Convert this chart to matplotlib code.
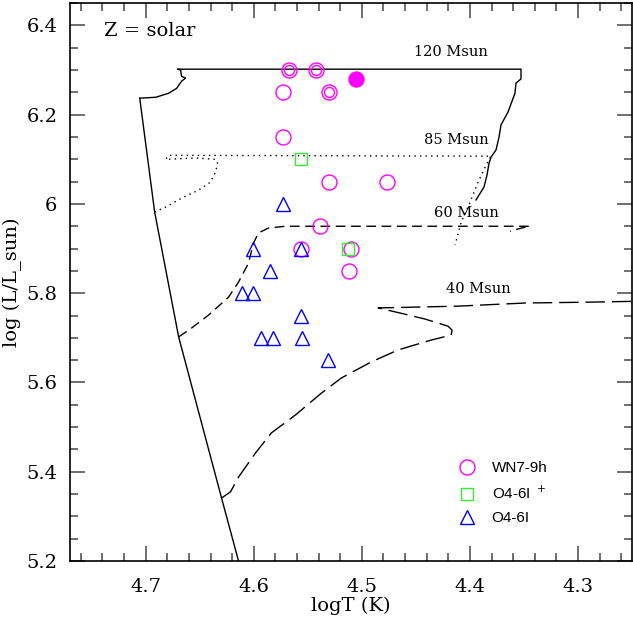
import matplotlib
matplotlib.use("Agg")
import matplotlib.pyplot as plt
from matplotlib.ticker import MultipleLocator

# --- observed stars (logT, logL) ---
wn_T = [4.573, 4.573, 4.530, 4.477, 4.539, 4.556, 4.510, 4.512]
wn_L = [6.250, 6.150, 6.050, 6.050, 5.950, 5.900, 5.900, 5.850]
wn_double_T = [4.567, 4.542, 4.530]
wn_double_L = [6.300, 6.300, 6.250]
wn_filled_T = [4.505]
wn_filled_L = [6.280]

o_plus_T = [4.556, 4.513]
o_plus_L = [6.100, 5.900]

o_T = [4.573, 4.601, 4.556, 4.585, 4.611, 4.601, 4.556, 4.593, 4.582, 4.555, 4.531]
o_L = [6.000, 5.900, 5.900, 5.850, 5.800, 5.800, 5.750, 5.700, 5.700, 5.700, 5.650]

# --- tracks ---
zams_T = [4.7055, 4.6917, 4.6695, 4.6298, 4.6141, 4.6085]
zams_L = [6.237, 5.982, 5.702, 5.341, 5.200, 5.150]

m120_T = [4.7055, 4.6908, 4.6788, 4.6714, 4.6668, 4.6631, 4.6668, 4.6677, 4.6705,
          4.3528, 4.3528, 4.3574, 4.3584, 4.3648, 4.3713, 4.3731, 4.3759, 4.3805,
          4.3824, 4.3842, 4.3870, 4.3944]
m120_L = [6.237, 6.239, 6.248, 6.259, 6.275, 6.282, 6.286, 6.300, 6.302,
          6.302, 6.280, 6.271, 6.248, 6.206, 6.177, 6.150, 6.121, 6.105,
          6.091, 6.065, 6.038, 6.009]

m85_T = [4.6917, 4.6815, 4.6668, 4.6511, 4.6400, 4.6354, 4.6335, 4.6354, 4.6538,
         4.6815, 4.6788, 4.3805, 4.3851, 4.3925, 4.3999, 4.4082, 4.4138]
m85_L = [5.982, 5.993, 6.013, 6.031, 6.049, 6.071, 6.091, 6.100, 6.103,
         6.100, 6.109, 6.107, 6.087, 6.049, 6.004, 5.959, 5.908]

m60_T = [4.6695, 4.6575, 4.6418, 4.6234, 4.6141, 4.6049, 4.6003, 4.5957, 4.5864,
         4.5707, 4.3445, 4.3491, 4.3630]
m60_L = [5.702, 5.722, 5.751, 5.791, 5.825, 5.867, 5.912, 5.935, 5.946,
         5.950, 5.950, 5.948, 5.939]

m40_T = [4.6298, 4.6215, 4.6141, 4.5984, 4.5837, 4.5615, 4.5375, 4.5190, 4.4913,
         4.4664, 4.4359, 4.4175, 4.4165, 4.4202, 4.4415, 4.4636, 4.4849, 4.4110,
         4.3491, 4.2882, 4.2448]
m40_L = [5.341, 5.355, 5.388, 5.442, 5.487, 5.527, 5.576, 5.610, 5.646,
         5.673, 5.695, 5.706, 5.717, 5.726, 5.742, 5.755, 5.767, 5.771,
         5.778, 5.780, 5.782]

track_labels = ["120 Msun", "85 Msun", "60 Msun", "40 Msun"]
label_T = [4.418, 4.413, 4.4036, 4.3925]
label_L = [6.340, 6.143, 5.979, 5.809]

serif = "DejaVu Serif"
magenta = "#ff00ff"
green = "#33ee33"
blue = "#0000ff"

fig = plt.figure(figsize=(6.33, 6.24), dpi=100)
ax = fig.add_axes([0.1106, 0.101, 0.888, 0.894])

ax.plot(zams_T, zams_L, color="black", lw=1.0)
ax.plot(m120_T, m120_L, color="black", lw=1.0)
ax.plot(m85_T, m85_L, color="black", lw=1.0, linestyle=(0, (1, 3)))
ax.plot(m60_T, m60_L, color="black", lw=1.0, linestyle=(0, (7, 4)))
ax.plot(m40_T, m40_L, color="black", lw=1.0, linestyle=(0, (14, 5)))

for lab, t, l in zip(track_labels, label_T, label_L):
    ax.text(t, l, lab, fontsize=10.5, family=serif, ha="center", va="center")

ax.text(0.06, 0.95, "Z = solar", transform=ax.transAxes, fontsize=14,
        family=serif, ha="left", va="center")

# stars
ax.plot(wn_T, wn_L, "o", ms=10.8, mfc="none", mec=magenta, mew=1.0,
        ls="none", label="WN7-9h")
ax.plot(wn_double_T, wn_double_L, "o", ms=10.8, mfc="none", mec=magenta,
        mew=1.0, ls="none")
ax.plot(wn_double_T, wn_double_L, "o", ms=7.2, mfc="none", mec=magenta,
        mew=1.0, ls="none")
ax.plot(wn_filled_T, wn_filled_L, "o", ms=10.8, mfc=magenta, mec=magenta,
        ls="none")
ax.plot(o_plus_T, o_plus_L, "s", ms=8.0, mfc="none", mec=green, mew=1.0,
        ls="none", label="O4-6I $^+$")
ax.plot(o_T, o_L, "^", ms=9.5, mfc="none", mec=blue, mew=1.0,
        ls="none", label="O4-6I")

ax.set_xlim(4.77, 4.25)
ax.set_ylim(5.2, 6.45)
ax.xaxis.set_major_locator(MultipleLocator(0.1))
ax.xaxis.set_minor_locator(MultipleLocator(0.02))
ax.yaxis.set_minor_locator(MultipleLocator(0.05))
ax.set_yticks([5.2, 5.4, 5.6, 5.8, 6.0, 6.2, 6.4])
ax.set_yticklabels(["5.2", "5.4", "5.6", "5.8", "6", "6.2", "6.4"])

ax.tick_params(which="both", direction="in", top=True, right=True,
               color="#555555", width=1.2)
ax.tick_params(which="major", length=11, labelsize=14, pad=9)
ax.tick_params(which="minor", length=5.5)
ax.tick_params(axis="x", which="major", pad=12)
for lbl in ax.get_xticklabels() + ax.get_yticklabels():
    lbl.set_family(serif)
for sp in ax.spines.values():
    sp.set_linewidth(1.2)

ax.set_xlabel("logT (K)", fontsize=14, family=serif, labelpad=1)
ax.set_ylabel("log (L/L_sun)", fontsize=14, family=serif, labelpad=3)

ax.legend(loc="upper left", bbox_to_anchor=(0.655, 0.203), frameon=False,
          handletextpad=0.6, labelspacing=0.6,
          prop={"family": "Liberation Sans", "size": 11})

fig.savefig("out.png", dpi=100)
